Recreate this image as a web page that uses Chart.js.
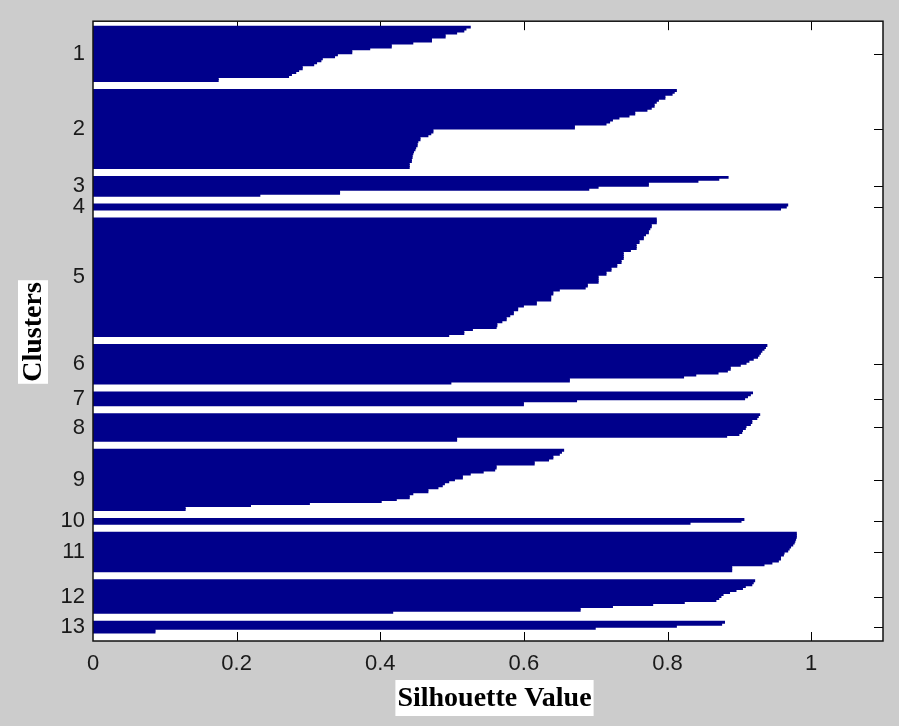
<!DOCTYPE html>
<html>
<head>
<meta charset="utf-8">
<title>Silhouette plot</title>
<script src="https://cdn.jsdelivr.net/npm/chart.js@4.4.1/dist/chart.umd.min.js"></script>
<style>
  html, body { margin: 0; padding: 0; background: #cccccc; }
  #wrap { width: 899px; height: 726px; }
</style>
</head>
<body>
<div id="wrap"><canvas id="silChart" width="899" height="726"></canvas></div>
<script>
// cluster labels + silhouette values per cluster (sorted, top row first)
const clusterLabels = ['1', '2', '3', '4', '5', '6', '7', '8', '9', '10', '11', '12', '13'];

const c1 = [0.526, 0.52, 0.517, 0.507, 0.491, 0.491, 0.472, 0.472, 0.446, 0.416,
            0.416, 0.386, 0.361, 0.361, 0.341, 0.337, 0.32, 0.318, 0.312, 0.308,
            0.292, 0.292, 0.287, 0.283, 0.277, 0.273, 0.175, 0.175];
const c2 = [0.813, 0.81, 0.807, 0.797, 0.797, 0.788, 0.785, 0.782, 0.782, 0.778,
            0.772, 0.755, 0.755, 0.747, 0.733, 0.724, 0.72, 0.715, 0.671, 0.671,
            0.474, 0.474, 0.471, 0.467, 0.456, 0.456, 0.453, 0.452, 0.452, 0.45,
            0.449, 0.447, 0.446, 0.445, 0.445, 0.444, 0.444, 0.441, 0.441, 0.441];
const c3 = [0.885, 0.872, 0.843, 0.774, 0.774, 0.704, 0.691, 0.344, 0.344, 0.233];
const c4 = [0.968, 0.966, 0.958];
const c5 = [0.785, 0.785, 0.785, 0.778, 0.778, 0.776, 0.774, 0.774, 0.770, 0.767,
            0.767, 0.761, 0.761, 0.757, 0.757, 0.757, 0.749, 0.739, 0.739, 0.739,
            0.739, 0.736, 0.736, 0.730, 0.730, 0.722, 0.722, 0.715, 0.715, 0.704,
            0.704, 0.704, 0.704, 0.689, 0.689, 0.686, 0.650, 0.641, 0.641, 0.638,
            0.638, 0.638, 0.618, 0.618, 0.600, 0.592, 0.592, 0.586, 0.586, 0.581,
            0.576, 0.576, 0.570, 0.563, 0.563, 0.562, 0.529, 0.517, 0.517, 0.496];
const c6 = [0.939, 0.937, 0.935, 0.932, 0.93, 0.928, 0.926, 0.92, 0.914, 0.91,
            0.902, 0.888, 0.888, 0.884, 0.871, 0.84, 0.823, 0.664, 0.664, 0.499];
const c7 = [0.919, 0.916, 0.912, 0.908, 0.674, 0.6, 0.6];
const c8 = [0.929, 0.927, 0.925, 0.918, 0.918, 0.916, 0.91, 0.909, 0.905, 0.904,
            0.9, 0.883, 0.507, 0.507];
const c9 = [0.656, 0.653, 0.65, 0.641, 0.641, 0.635, 0.615, 0.615, 0.562, 0.562,
            0.56, 0.544, 0.526, 0.515, 0.515, 0.504, 0.496, 0.49, 0.487, 0.481,
            0.467, 0.467, 0.446, 0.441, 0.441, 0.423, 0.402, 0.302, 0.22, 0.129,
            0.129];
const c10 = [0.907, 0.903, 0.832];
const c11 = [0.98, 0.98, 0.98, 0.979, 0.978, 0.977, 0.975, 0.972, 0.97, 0.968,
             0.963, 0.962, 0.958, 0.958, 0.955, 0.946, 0.935, 0.89, 0.89, 0.89];
const c12 = [0.922, 0.92, 0.918, 0.909, 0.905, 0.896, 0.887, 0.878, 0.875, 0.872,
             0.868, 0.824, 0.78, 0.724, 0.679, 0.679, 0.418];
const c13 = [0.88, 0.876, 0.813, 0.7, 0.087, 0.087];

const xTicks = [0, 0.2, 0.4, 0.6, 0.8, 1];

// spacing (in rows) around and between the clusters
const topGap = 2.5, clusterGap = 4, bottomGap = 4;

const clusters = [c1, c2, c3, c4, c5, c6, c7, c8, c9, c10, c11, c12, c13];
const rows = [];
const centers = [];
let pos = topGap;
clusters.forEach((vals, i) => {
    if (i > 0) pos += clusterGap;
    centers.push(pos + vals.length / 2);
    vals.forEach(v => {
        rows.push({ x: v, y: pos + 0.5 });
        pos += 1;
    });
});
const yMax = pos + bottomGap;

const tickFont = { family: '"Liberation Sans", Arial, sans-serif', size: 22 };
const titleFont = 'bold 28px "Liberation Serif", "Times New Roman", serif';

// white plot box, inward ticks, frame and boxed axis titles
const framePlugin = {
    id: 'framePlugin',
    beforeDraw(chart) {
        const { ctx, chartArea: a } = chart;
        ctx.save();
        ctx.fillStyle = '#ffffff';
        ctx.fillRect(a.left, a.top, a.right - a.left, a.bottom - a.top);
        ctx.restore();
    },
    beforeDatasetsDraw(chart) {
        const { ctx, chartArea: a, scales } = chart;
        const len = 9;
        ctx.save();
        ctx.strokeStyle = '#000';
        ctx.lineWidth = 1;
        ctx.beginPath();
        xTicks.slice(1).forEach(v => {
            const px = Math.round(scales.x.getPixelForValue(v)) + 0.5;
            ctx.moveTo(px, a.bottom); ctx.lineTo(px, a.bottom - len);
            ctx.moveTo(px, a.top); ctx.lineTo(px, a.top + len);
        });
        centers.forEach(v => {
            const py = Math.round(scales.y.getPixelForValue(v)) + 0.5;
            ctx.moveTo(a.right, py); ctx.lineTo(a.right - len, py);
            ctx.moveTo(a.left, py); ctx.lineTo(a.left + len, py);
        });
        ctx.stroke();
        ctx.restore();
    },
    afterDraw(chart) {
        const { ctx, chartArea: a } = chart;
        ctx.save();
        ctx.strokeStyle = '#111';
        ctx.lineWidth = 1.5;
        ctx.strokeRect(a.left, a.top, a.right - a.left, a.bottom - a.top);

        ctx.font = titleFont;
        ctx.textAlign = 'center';
        ctx.textBaseline = 'middle';

        // x title
        const xt = 'Silhouette Value';
        const xw = ctx.measureText(xt).width + 4;
        const xc = 494.5, yc = 698;
        ctx.fillStyle = '#fff';
        ctx.fillRect(xc - xw / 2, yc - 18, xw, 36);
        ctx.fillStyle = '#000';
        ctx.fillText(xt, xc, yc + 1);

        // y title
        const yt = 'Clusters';
        const yw = ctx.measureText(yt).width + 4;
        ctx.translate(33, 332);
        ctx.rotate(-Math.PI / 2);
        ctx.fillStyle = '#fff';
        ctx.fillRect(-yw / 2, -15, yw, 30);
        ctx.fillStyle = '#000';
        ctx.fillText(yt, 0, 1);
        ctx.restore();
    }
};

const ctx = document.getElementById('silChart').getContext('2d');

new Chart(ctx, {
    type: 'bar',
    data: {
        datasets: [{
            data: rows,
            backgroundColor: '#00008b',
            borderWidth: 0,
            categoryPercentage: 1,
            barPercentage: 1.5
        }]
    },
    options: {
        responsive: false,
        animation: false,
        indexAxis: 'y',
        layout: { padding: { top: 19, right: 16, left: 0, bottom: 0 } },
        plugins: {
            legend: { display: false },
            tooltip: { enabled: false }
        },
        scales: {
            x: {
                type: 'linear',
                position: 'bottom',
                min: 0,
                max: 1.1,
                offset: false,
                grid: { display: false, drawTicks: false },
                border: { display: false },
                afterBuildTicks: s => { s.ticks = xTicks.map(v => ({ value: v })); },
                afterFit: s => { s.height = 85; },
                ticks: {
                    autoSkip: false,
                    maxRotation: 0,
                    padding: 10,
                    color: '#1a1a1a',
                    font: tickFont,
                    callback: v => String(v)
                }
            },
            y: {
                type: 'linear',
                position: 'left',
                reverse: true,
                min: 0,
                max: yMax,
                offset: false,
                grid: { display: false, drawTicks: false },
                border: { display: false },
                afterBuildTicks: s => { s.ticks = centers.map(v => ({ value: v })); },
                afterFit: s => { s.width = 93; },
                ticks: {
                    autoSkip: false,
                    padding: 8,
                    color: '#1a1a1a',
                    font: tickFont,
                    callback: (v, i) => clusterLabels[i]
                }
            }
        }
    },
    plugins: [framePlugin]
});
</script>
</body>
</html>
